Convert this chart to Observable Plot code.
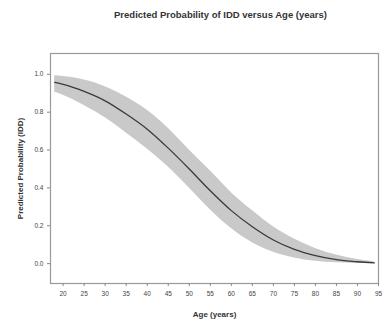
<!DOCTYPE html>
<html>
<head>
<meta charset="utf-8">
<script src="https://cdn.jsdelivr.net/npm/d3@7"></script>
<script src="https://cdn.jsdelivr.net/npm/@observablehq/plot@0.6"></script>
<style>
  body { margin: 0; background: #fff; font-family: "Liberation Sans", Arial, sans-serif; }
  #title { height: 30px; width: 387px; text-align: center; box-sizing: border-box; padding-left: 54px;
           font-size: 9.5px; font-weight: bold; color: #333; line-height: 30px; }
  #chart svg { display: block; }
</style>
</head>
<body>
<div id="title">Predicted Probability of IDD versus Age (years)</div>
<div id="chart"></div>
<script>
const ages = [18, 20, 25, 30, 35, 40, 45, 50, 55, 60, 65, 70, 75, 80, 85, 90, 94];
const predicted = [0.957, 0.947, 0.91, 0.86, 0.79, 0.71, 0.61, 0.50, 0.385, 0.28, 0.195, 0.125, 0.075, 0.042, 0.021, 0.01, 0.004];
const lower = [0.905, 0.89, 0.835, 0.77, 0.69, 0.605, 0.51, 0.40, 0.285, 0.185, 0.11, 0.06, 0.03, 0.012, 0.004, 0.001, 0.0];
const upper = [0.992, 0.988, 0.97, 0.935, 0.88, 0.81, 0.715, 0.60, 0.49, 0.375, 0.28, 0.195, 0.13, 0.08, 0.045, 0.022, 0.01];
const xTicks = [20, 25, 30, 35, 40, 45, 50, 55, 60, 65, 70, 75, 80, 85, 90, 95];
const yTicks = [0, 0.2, 0.4, 0.6, 0.8, 1.0];

const data = ages.map((a, i) => ({age: a, p: predicted[i], lo: lower[i], hi: upper[i]}));

const plot = Plot.plot({
  width: 387,
  height: 299,
  marginTop: 23,
  marginBottom: 46,
  marginLeft: 50,
  marginRight: 9,
  style: {fontFamily: "Liberation Sans, Arial, sans-serif", fontSize: "6.5px", color: "#444", background: "#fff"},
  x: {domain: [17, 95]},
  y: {domain: [-0.105, 1.11]},
  marks: [
    Plot.areaY(data, {x: "age", y1: "lo", y2: "hi", fill: "#c9c9c9", curve: "monotone-x"}),
    Plot.lineY(data, {x: "age", y: "p", stroke: "#3a3a3a", strokeWidth: 1.3, curve: "monotone-x"}),
    Plot.frame({stroke: "#999", strokeWidth: 1.2}),
    Plot.axisX({ticks: xTicks, tickSize: 3, tickPadding: 5, stroke: "#888",
      label: "Age (years)", labelAnchor: "center", labelArrow: "none", labelOffset: 33}),
    Plot.axisY({ticks: yTicks, tickFormat: d3.format(".1f"), tickSize: 3, tickPadding: 4, stroke: "#888",
      label: "Predicted Probability (IDD)", labelAnchor: "center", labelArrow: "none", labelOffset: 33})
  ]
});
document.getElementById("chart").appendChild(plot);
plot.querySelectorAll("g[aria-label='x-axis label'] text, g[aria-label='y-axis label'] text").forEach(t => {
  t.setAttribute("font-weight", "bold");
  t.setAttribute("font-size", "8px");
  t.setAttribute("fill", "#333");
});
</script>
</body>
</html>
